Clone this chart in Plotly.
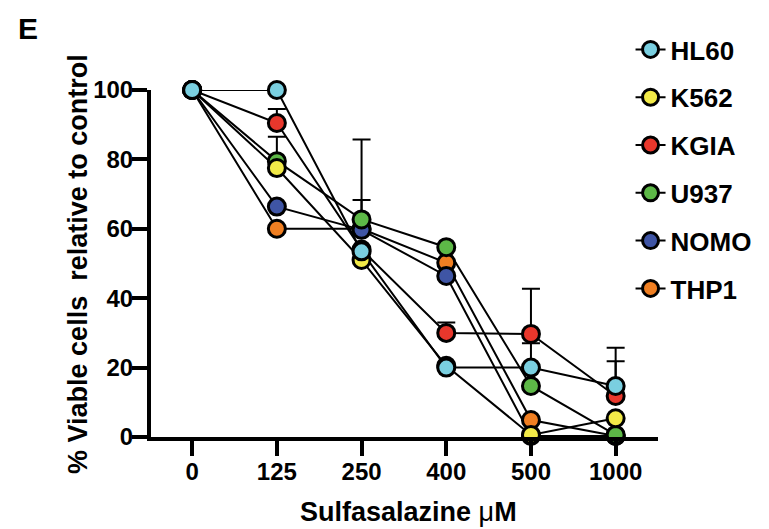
import plotly.graph_objects as go

conc = ["0", "125", "250", "400", "500", "1000"]
hl60 = [100, 100, 53.5, 20, 20, 14.7]
hl60_err = [0, 0, 0, 0, 7, 11]
k562 = [100, 77.5, 51, 20.5, 0.6, 5.4]
k562_err = [0, 0, 0, 0, 0, 0]
kgia = [100, 90.5, 54, 30, 29.7, 11.8]
kgia_err = [0, 4, 0, 3, 13, 10]
u937 = [100, 79.5, 62.7, 54.7, 14.7, 0.6]
u937_err = [0, 7, 23, 0, 0, 0]
nomo = [100, 66.4, 59.7, 46.4, 0.3, 0.3]
nomo_err = [0, 0, 8.6, 0, 0, 0]
thp1 = [100, 60, 60, 50.2, 4.9, 0.3]
thp1_err = [0, 0, 0, 0, 0, 0]

names = ["HL60", "K562", "KGIA", "U937", "NOMO", "THP1"]
values = [hl60, k562, kgia, u937, nomo, thp1]
errors = [hl60_err, k562_err, kgia_err, u937_err, nomo_err, thp1_err]
colors = ["#7ACFE0", "#F2EA48", "#E8372C", "#5DB847", "#3F55A5", "#F07F22"]
draw_order = ["THP1", "NOMO", "KGIA", "U937", "K562", "HL60"]

FONT = "Liberation Sans, Arial, Helvetica, sans-serif"
L, R, T, B = 151, 101, 90, 92
PW = 769 - L - R
PH = 529 - T - B

fig = go.Figure()

# connecting lines (behind markers)
for n in draw_order:
    i = names.index(n)
    fig.add_trace(go.Scatter(x=conc, y=values[i], mode="lines",
                             line=dict(color="black", width=2),
                             showlegend=False, hoverinfo="skip", cliponaxis=False))

# markers with upward error bars
for n in draw_order:
    i = names.index(n)
    fig.add_trace(go.Scatter(
        x=conc, y=values[i], mode="markers", showlegend=False, cliponaxis=False,
        marker=dict(size=17, color=colors[i], line=dict(color="black", width=3)),
        error_y=dict(type="data", symmetric=False, array=errors[i],
                     arrayminus=[0] * len(errors[i]), visible=True, color="black",
                     thickness=2, width=9),
    ))

# legend entries
for i, n in enumerate(names):
    fig.add_trace(go.Scatter(
        x=[None], y=[None], mode="lines+markers", name=n, legendgroup=n,
        line=dict(color="black", width=2),
        marker=dict(size=17, color=colors[i], line=dict(color="black", width=3)),
    ))

fig.update_layout(
    width=769, height=529,
    margin=dict(l=L, r=R, t=T, b=B),
    plot_bgcolor="white", paper_bgcolor="white",
    font=dict(family=FONT, size=24, color="black"),
    showlegend=True,
    legend=dict(x=(640 - L) / PW, xanchor="left", y=(437 - 26) / PH, yanchor="top",
                font=dict(family=FONT, size=26, color="black", weight="bold"),
                tracegroupgap=11, bgcolor="rgba(0,0,0,0)", maxheight=520),
    xaxis=dict(type="category", range=[-0.486, 5.5], showline=True, linecolor="black",
               linewidth=4, ticks="outside", ticklen=15, tickwidth=4, tickcolor="black",
               showgrid=False, zeroline=False, ticklabelstandoff=-5,
               tickfont=dict(family=FONT, size=24, color="black", weight="bold")),
    yaxis=dict(range=[0, 100], tickvals=[0, 20, 40, 60, 80, 100], showline=True,
               linecolor="black", linewidth=4, ticks="outside", ticklen=15, tickwidth=4,
               tickcolor="black", showgrid=False, zeroline=False, ticklabelstandoff=-6,
               tickfont=dict(family=FONT, size=24, color="black", weight="bold")),
    annotations=[
        dict(text="<b>E</b>", x=(13 - L) / PW, y=(437 - 10) / PH, xref="paper", yref="paper",
             xanchor="left", yanchor="top", showarrow=False,
             font=dict(family=FONT, size=30, color="black")),
        dict(text="<b>% Viable cells  relative to control</b>", textangle=-90,
             x=(76 - L) / PW, y=(437 - 263.5) / PH, xref="paper", yref="paper",
             xanchor="center", yanchor="middle", showarrow=False,
             font=dict(family=FONT, size=27, color="black")),
        dict(text="<b>Sulfasalazine </b>μ<b>M</b>",
             x=(413.5 - L) / PW, y=(437 - 512) / PH, xref="paper", yref="paper",
             xanchor="center", yanchor="middle", showarrow=False,
             font=dict(family=FONT, size=27, color="black")),
    ],
)

fig.write_html("out.html")
